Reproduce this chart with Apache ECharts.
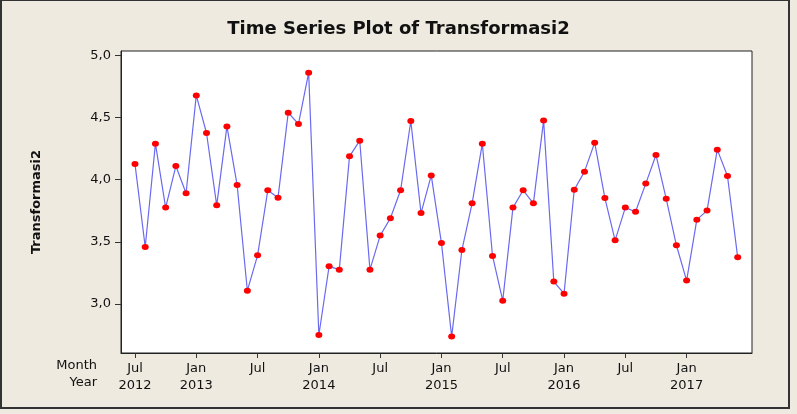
<!DOCTYPE html>
<html>
<head>
<meta charset="utf-8">
<script src="https://cdn.jsdelivr.net/npm/echarts@6/dist/echarts.min.js"></script>
<style>
html,body{margin:0;padding:0;background:#f4f4f4;}
#c{width:797px;height:414px;}
</style>
</head>
<body>
<div id="c"></div>
<script>
// Monthly index 0 = Jul 2012 ... 59 = Jun 2017
var months = ['Jul','Aug','Sep','Oct','Nov','Dec','Jan','Feb','Mar','Apr','May','Jun'];
var startYear = 2012;
var values = [
  4.126, 3.459, 4.290, 3.776, 4.110, 3.891,
  4.678, 4.376, 3.794, 4.429, 3.957, 3.108,
  3.392, 3.915, 3.856, 4.539, 4.448, 4.861,
  2.752, 3.304, 3.277, 4.188, 4.314, 3.277,
  3.551, 3.690, 3.915, 4.472, 3.732, 4.035,
  3.491, 2.739, 3.435, 3.810, 4.290, 3.387,
  3.028, 3.776, 3.915, 3.810, 4.477, 3.181,
  3.084, 3.920, 4.065, 4.298, 3.853, 3.513,
  3.776, 3.743, 3.969, 4.199, 3.848, 3.473,
  3.189, 3.679, 3.752, 4.242, 4.030, 3.376
];
var xTickIdx = [0, 6, 12, 18, 24, 30, 36, 42, 48, 54];
var yTicks = [3.0, 3.5, 4.0, 4.5, 5.0];

function monthName(i){ return months[i % 12]; }
function yearOf(i){ return startYear + Math.floor((i + 6) / 12); }

var data = values.map(function(v, i){ return [i, v]; });

var chart = echarts.init(document.getElementById('c'), null, {renderer:'canvas'});
var font = 'Verdana, "DejaVu Sans", sans-serif';
chart.setOption({
  backgroundColor: '#EEEAE0',
  animation: false,
  title: {
    text: 'Time Series Plot of Transformasi2',
    left: 'center', top: 15,
    textStyle: {fontFamily: 'Tahoma, "DejaVu Sans", sans-serif', fontWeight: 'bold', fontSize: 18, color: '#111'}
  },
  grid: {
    left: 121, top: 51, right: 45, bottom: 61,
    show: true, backgroundColor: '#ffffff', borderColor: '#222', borderWidth: 1
  },
  xAxis: {
    type: 'value', min: -1.37, max: 60.4,
    splitLine: {show: false},
    axisLine: {show: true, onZero: false, lineStyle: {color: '#222'}},
    axisTick: {show: true, length: 5, lineStyle: {color: '#333'}, customValues: xTickIdx},
    axisLabel: {
      customValues: xTickIdx,
      margin: 7,
      color: '#111', fontFamily: font, fontSize: 13, lineHeight: 17,
      formatter: function(v){
        var i = Math.round(v);
        var m = monthName(i);
        if (i === 0 || m === 'Jan') return m + '\n' + yearOf(i);
        return m;
      }
    }
  },
  yAxis: {
    type: 'value', min: 2.607, max: 5.035,
    splitLine: {show: false},
    axisLine: {show: true, onZero: false, lineStyle: {color: '#222'}},
    axisTick: {show: true, length: 6, lineStyle: {color: '#333'}, customValues: yTicks},
    axisLabel: {
      customValues: yTicks,
      margin: 10,
      color: '#111', fontFamily: font, fontSize: 13,
      formatter: function(v){ return v.toFixed(1).replace('.', ','); }
    },
    name: 'Transformasi2',
    nameLocation: 'middle',
    nameGap: 78,
    nameRotate: 90,
    nameTextStyle: {fontFamily: 'Tahoma, "DejaVu Sans", sans-serif', fontWeight: 'bold', fontSize: 13, color: '#111'}
  },
  graphic: [
    {type: 'rect', shape: {x: 1, y: 0, width: 788, height: 408}, style: {fill: 'none', stroke: '#333', lineWidth: 2}, silent: true},
    {type: 'text', right: 700, top: 359, style: {text: 'Month', font: '13px ' + font, fill: '#111', textAlign: 'right'}},
    {type: 'text', right: 700, top: 376, style: {text: 'Year', font: '13px ' + font, fill: '#111', textAlign: 'right'}}
  ],
  series: [{
    type: 'line',
    data: data,
    symbol: 'circle',
    symbolSize: [7, 6],
    itemStyle: {color: '#ff0000', borderWidth: 0},
    lineStyle: {color: '#6a6af0', width: 1.2},
    z: 3
  }]
});
</script>
</body>
</html>
